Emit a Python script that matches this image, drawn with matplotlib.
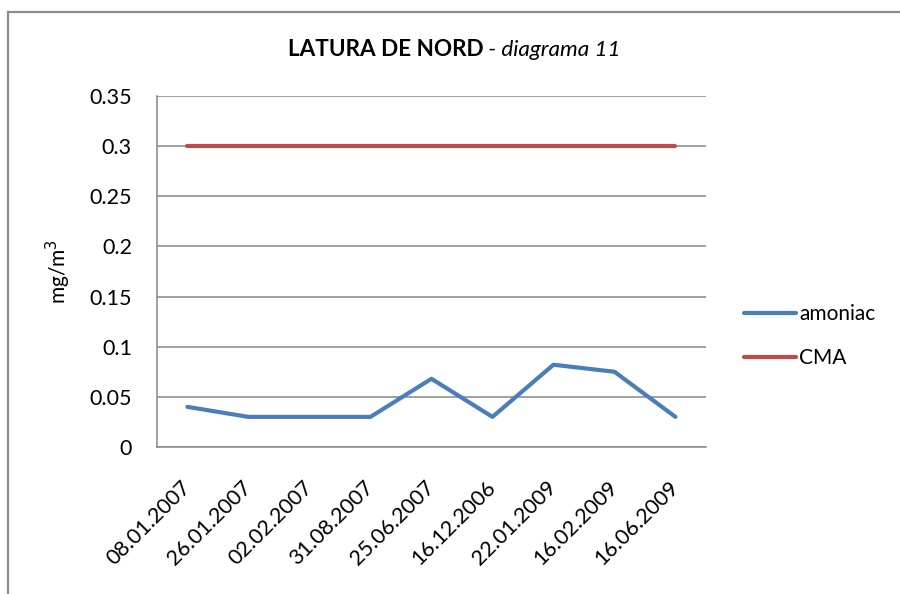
import matplotlib
matplotlib.use("Agg")
import matplotlib.pyplot as plt
from matplotlib.lines import Line2D

plt.rcParams["font.family"] = ["Lato", "DejaVu Sans"]

dates = ["08.01.2007", "26.01.2007", "02.02.2007", "31.08.2007", "25.06.2007",
         "16.12.2006", "22.01.2009", "16.02.2009", "16.06.2009"]
amoniac = [0.040, 0.030, 0.030, 0.030, 0.068, 0.030, 0.082, 0.075, 0.030]
cma = [0.3] * len(dates)
yticks = [0, 0.05, 0.1, 0.15, 0.2, 0.25, 0.3, 0.35]
ytick_labels = ["0", "0.05", "0.1", "0.15", "0.2", "0.25", "0.3", "0.35"]

GRID = "#868686"

fig = plt.figure(figsize=(9, 5.94), dpi=100)
ax = fig.add_axes([0.1744, 0.2475, 0.61, 0.591])

x = list(range(len(dates)))
ax.plot(x, amoniac, color="#4a7ebb", lw=3, solid_capstyle="round",
        solid_joinstyle="round", label="amoniac", zorder=3)
ax.plot(x, cma, color="#be4b48", lw=3, solid_capstyle="round",
        label="CMA", zorder=3)

ax.set_xlim(-0.5, len(dates) - 0.5)
ax.set_ylim(0, 0.35)
ax.set_yticks(yticks)
ax.set_yticklabels(ytick_labels)
ax.set_xticks(x)
ax.set_xticklabels(dates, rotation=45, ha="right", va="center",
                   rotation_mode="anchor")
ax.tick_params(axis="both", length=0, labelsize=15.5)
ax.tick_params(axis="x", pad=27)
ax.tick_params(axis="y", pad=18)
ax.grid(axis="y", color=GRID, lw=1.1)
ax.set_axisbelow(True)
for s in ("top", "right"):
    ax.spines[s].set_visible(False)
for s in ("left", "bottom"):
    ax.spines[s].set_color(GRID)
    ax.spines[s].set_linewidth(1.1)

ax.set_ylabel("mg/m$^3$", fontsize=15, labelpad=12)

fig.text(0.537, 0.916, "LATURA DE NORD", fontsize=16.2, fontweight="bold",
         ha="right", va="center")
fig.text(0.537, 0.916, " - diagrama 11", fontsize=16.2, fontstyle="italic",
         ha="left", va="center")

fig.legend(loc="center left", bbox_to_anchor=(0.806, 0.434), frameon=False,
           fontsize=15, handlelength=2.5, handletextpad=0.15,
           labelspacing=1.15)

# outer chart frame (only left and top edges visible in the crop)
fig.add_artist(Line2D([8 / 900, 8 / 900], [0, 1 - 12 / 594],
                      transform=fig.transFigure, color="#8c8c8c", lw=1.6))
fig.add_artist(Line2D([8 / 900, 1], [1 - 12 / 594, 1 - 12 / 594],
                      transform=fig.transFigure, color="#8c8c8c", lw=1.6))

fig.savefig("out.png", dpi=100)
